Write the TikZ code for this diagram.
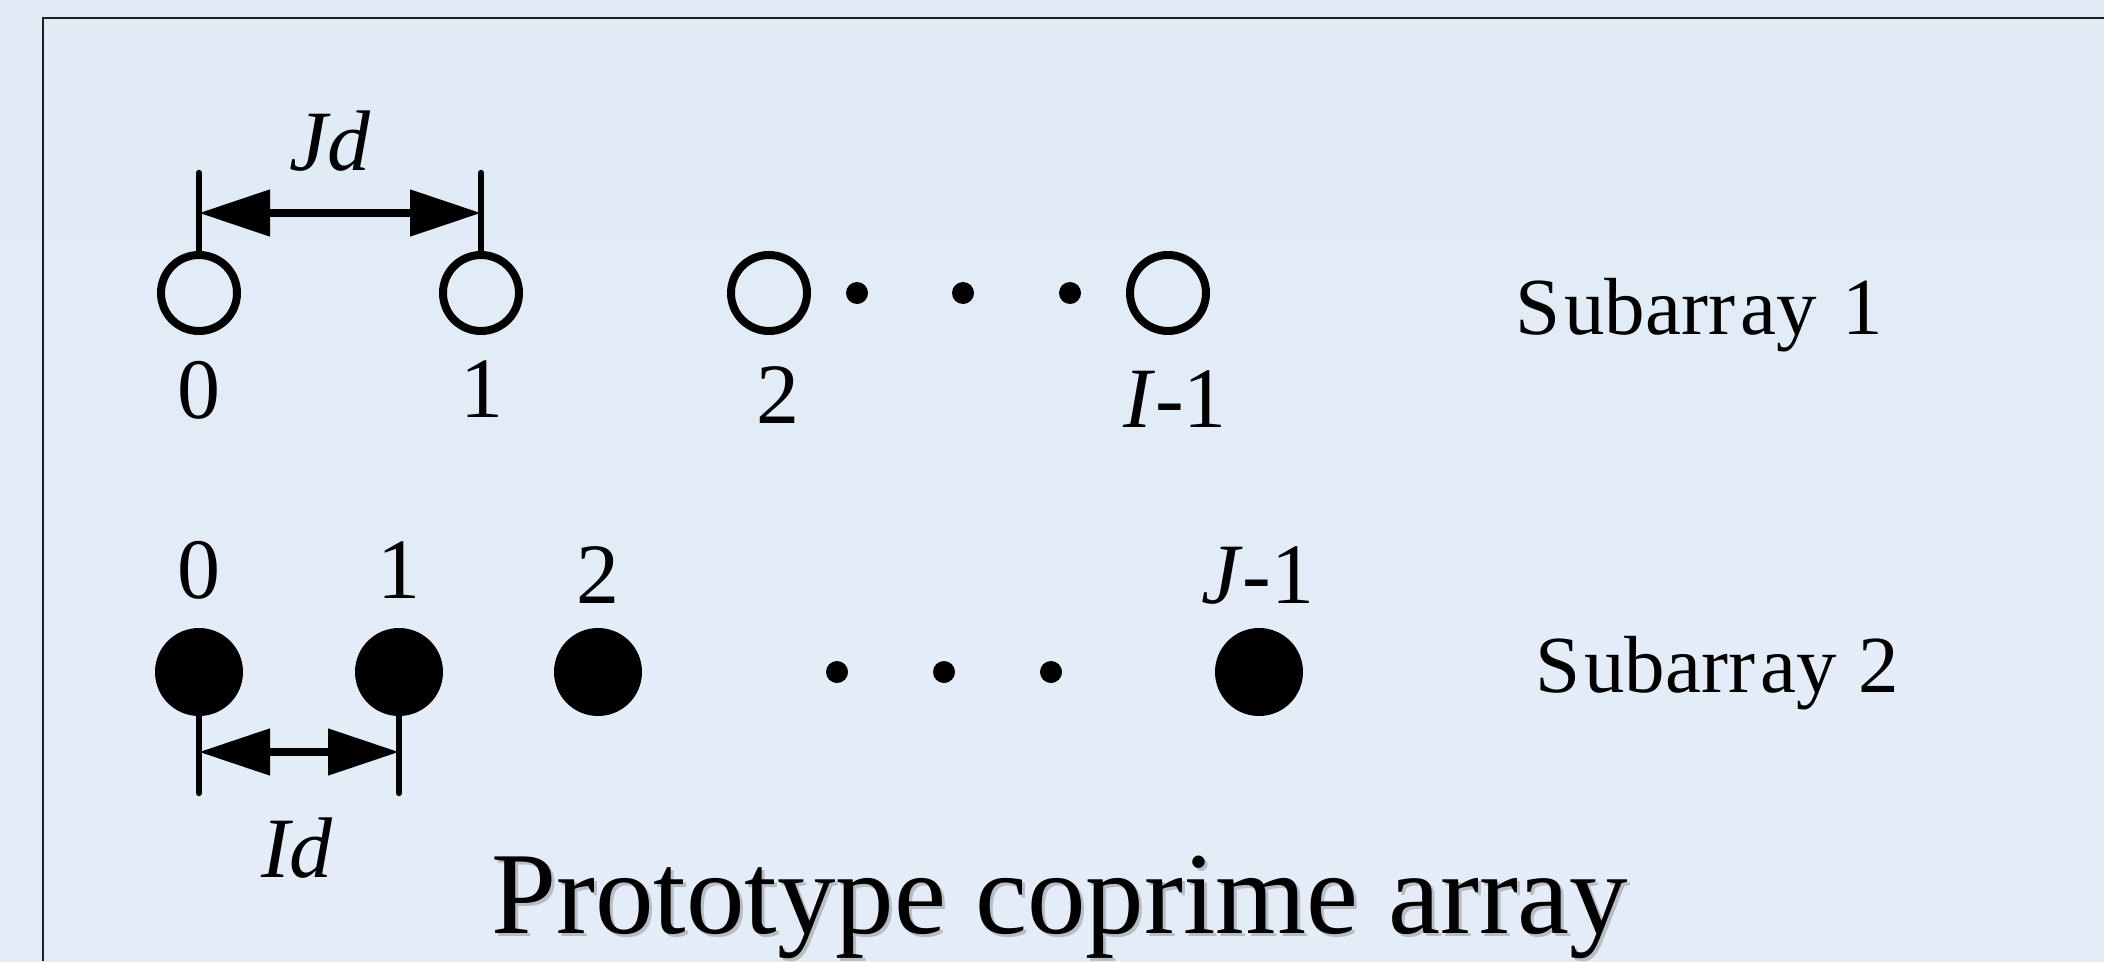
\documentclass[tikz,border=0pt]{standalone}
\usepackage{fontspec}
\setmainfont{Liberation Serif}
\usetikzlibrary{arrows.meta}
\definecolor{paneltop}{RGB}{224,235,246}
\definecolor{panelbot}{RGB}{228,237,247}
\definecolor{framecol}{RGB}{30,30,30}
\begin{document}
\begin{tikzpicture}[x=1pt,y=-1pt,
  opensensor/.style={circle,draw=black,line width=8pt,inner sep=0pt,minimum size=76pt},
  solidsensor/.style={circle,fill=black,inner sep=0pt,minimum size=88pt},
  gapdot/.style={circle,fill=black,inner sep=0pt,minimum size=22pt},
  tickline/.style={line width=6.5pt,line cap=round},
  spacing/.style={line width=8pt,{Triangle[length=71pt,width=45pt]}-{Triangle[length=71pt,width=45pt]}},
  idx/.style={anchor=base,inner sep=0pt,font=\fontsize{86}{100}\selectfont},
  sublabel/.style={anchor=base west,inner sep=0pt,font=\fontsize{81}{100}\selectfont},
  titletext/.style={anchor=base west,inner sep=0pt,font=\fontsize{117}{130}\selectfont}
]
\useasboundingbox (0,0) rectangle (2104,961);
% panel background and frame
\shade[top color=paneltop,bottom color=panelbot] (0,0) rectangle (2104,961);
\draw[framecol,line width=2pt] (43,961) -- (43,18) -- (2104,18);

% ---- subarray 1 (open sensors) ----
\node[opensensor] (a0) at (199,293) {};
\node[opensensor] (a1) at (481,293) {};
\node[opensensor] (a2) at (769,293) {};
\node[gapdot] (ad1) at (857,293) {};
\node[gapdot] (ad2) at (963,293) {};
\node[gapdot] (ad3) at (1070,293) {};
\node[opensensor] (aL) at (1168,293) {};

\node[idx] (la0) at (199,418) {0};
\node[idx] (la1) at (482,417) {1};
\node[idx] (la2) at (778,423) {2};
\node[idx] (laL) at (1175,427) {\textit{I}-1};

\coordinate (ta0) at (199,173);
\coordinate (ta1) at (481,173);
\draw[tickline] (a0.north) -- (ta0);
\draw[tickline] (a1.north) -- (ta1);
\coordinate (ja0) at (199,213);
\coordinate (ja1) at (481,213);
\draw[spacing] (ja0) -- (ja1);
\node[idx] (jd) at (330,170) {\textit{Jd}};

\node[sublabel] (s1) at (1515,334) {S\kern4pt ubarr\kern5pt ay\ \kern6pt 1};

% ---- subarray 2 (solid sensors) ----
\node[solidsensor] (b0) at (199,672) {};
\node[solidsensor] (b1) at (399,672) {};
\node[solidsensor] (b2) at (598,672) {};
\node[gapdot] (bd1) at (837,672) {};
\node[gapdot] (bd2) at (944,672) {};
\node[gapdot] (bd3) at (1051,672) {};
\node[solidsensor] (bL) at (1259,672) {};

\node[idx] (lb0) at (199,598) {0};
\node[idx] (lb1) at (399,598) {1};
\node[idx] (lb2) at (598,603) {2};
\node[idx] (lbL) at (1258,603) {\textit{J}-1};

\coordinate (tb0) at (199,793);
\coordinate (tb1) at (399,793);
\draw[tickline] (b0.south) -- (tb0);
\draw[tickline] (b1.south) -- (tb1);
\coordinate (jb0) at (199,752);
\coordinate (jb1) at (399,752);
\draw[spacing] (jb0) -- (jb1);
\node[idx] (id) at (297,877) {\textit{Id}};

\node[sublabel] (s2) at (1535,692) {S\kern4pt ubarr\kern5pt ay\ \kern2pt 2};

% ---- caption with soft shadow ----
\node[titletext,text=black,opacity=0.2] (capshadow) at (494,936) {Prototype coprime array};
\node[titletext] (cap) at (491,933) {Prototype coprime array};
\end{tikzpicture}
\end{document}
